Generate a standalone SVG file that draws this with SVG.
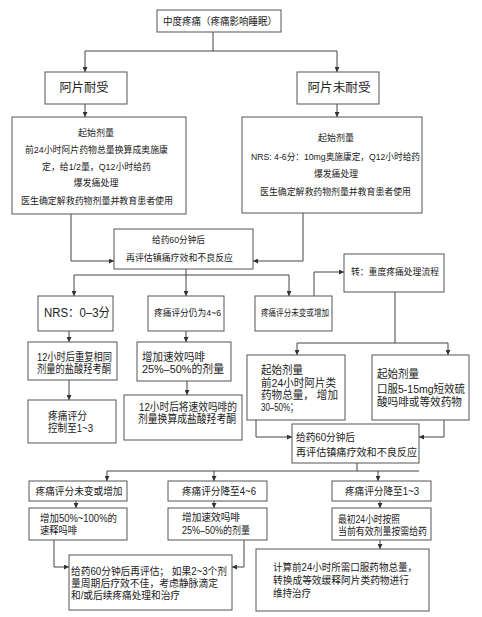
<svg xmlns="http://www.w3.org/2000/svg" width="482" height="617" viewBox="0 0 482 617">
<defs>
<marker id="ar" markerUnits="userSpaceOnUse" markerWidth="5" markerHeight="5" refX="5" refY="2.5" orient="auto">
<path d="M0,0 L5,2.5 L0,5 z" fill="#333"/>
</marker>
<style>
.b{fill:#fff;stroke:#555;stroke-width:1}
.c{fill:none;stroke:#444;stroke-width:1}
.a{marker-end:url(#ar)}
text{font-family:"Liberation Sans","Noto Sans CJK SC",sans-serif;fill:#222;dominant-baseline:central}
.m{text-anchor:middle}
.s9{font-size:9px}
.s10{font-size:10px}
.s11{font-size:11px}
.s12{font-size:12px}
</style>
</defs>
<rect width="482" height="617" fill="#fff"/>
<g id="connectors">
<path class="c" d="M213 32V51M85 51H337"/>
<path class="c a" d="M85 51V72"/>
<path class="c a" d="M337 51V72"/>
<path class="c a" d="M85 104V117"/>
<path class="c a" d="M337 104V117"/>
<path class="c a" d="M71 214V261H114"/>
<path class="c a" d="M303 213V261H253"/>
<path class="c" d="M186 269V275M74 275H289"/>
<path class="c a" d="M74 275V296"/>
<path class="c a" d="M186 275V296"/>
<path class="c a" d="M289 275V296"/>
<path class="c a" d="M314 296V272H344"/>
<path class="c" d="M395 292V343M297 343H448"/>
<path class="c a" d="M297 343V355"/>
<path class="c a" d="M448 343V355"/>
<path class="c a" d="M69 331V342"/>
<path class="c a" d="M69 380V400"/>
<path class="c a" d="M186 331V342"/>
<path class="c a" d="M187 381V395"/>
<path class="c a" d="M256 420V437H292"/>
<path class="c a" d="M444 420V437H419"/>
<path class="c" d="M357 463V471M107 471H419"/>
<path class="c a" d="M107 471V481"/>
<path class="c a" d="M214 471V481"/>
<path class="c a" d="M378 471V481"/>
<path class="c a" d="M76 501V508"/>
<path class="c a" d="M214 501V508"/>
<path class="c a" d="M380 501V508"/>
<path class="c a" d="M54 540V567H69"/>
<path class="c a" d="M244 540V567H232"/>
<path class="c a" d="M380 540V549"/>
</g>
<g id="n_top"><rect class="b" x="157" y="10" width="124" height="22"/>
<text class="m s10" x="220" y="21" textLength="114" lengthAdjust="spacingAndGlyphs">中度疼痛（疼痛影响睡眠）</text></g>
<g id="n_tol"><rect class="b" x="45" y="72" width="82" height="32"/>
<text class="m s12" x="84" y="88" textLength="49" lengthAdjust="spacingAndGlyphs">阿片耐受</text></g>
<g id="n_untol"><rect class="b" x="297" y="72" width="82" height="32"/>
<text class="m s12" x="339" y="88" textLength="63" lengthAdjust="spacingAndGlyphs">阿片未耐受</text></g>
<g id="n_start_l"><rect class="b" x="12" y="117" width="174" height="97"/>
<text class="m s9" x="96" y="133" textLength="36" lengthAdjust="spacingAndGlyphs">起始剂量</text>
<text class="m s9" x="96.5" y="150" textLength="143" lengthAdjust="spacingAndGlyphs">前24小时阿片药物总量换算成奥施康</text>
<text class="m s9" x="96.5" y="167" textLength="109" lengthAdjust="spacingAndGlyphs">定，给1/2量，Q12小时给药</text>
<text class="m s9" x="96" y="183" textLength="45" lengthAdjust="spacingAndGlyphs">爆发痛处理</text>
<text class="m s9" x="97" y="201" textLength="152" lengthAdjust="spacingAndGlyphs">医生确定解救药物剂量并教育患者使用</text></g>
<g id="n_start_r"><rect class="b" x="242" y="117" width="180" height="96"/>
<text class="m s9" x="336" y="138" textLength="36" lengthAdjust="spacingAndGlyphs">起始剂量</text>
<text class="m s9" x="335.5" y="157" textLength="169" lengthAdjust="spacingAndGlyphs">NRS: 4-6分：10mg奥施康定，Q12小时给药</text>
<text class="m s9" x="336" y="174" textLength="44" lengthAdjust="spacingAndGlyphs">爆发痛处理</text>
<text class="m s9" x="335.5" y="192" textLength="151" lengthAdjust="spacingAndGlyphs">医生确定解救药物剂量并教育患者使用</text></g>
<g id="n_eval1"><rect class="b" x="114" y="229" width="139" height="40"/>
<text class="m s9" x="178.5" y="240" textLength="53" lengthAdjust="spacingAndGlyphs">给药60分钟后</text>
<text class="m s9" x="179.5" y="258" textLength="107" lengthAdjust="spacingAndGlyphs">再评估镇痛疗效和不良反应</text></g>
<g id="n_nrs03"><rect class="b" x="38" y="296" width="75" height="35"/>
<text class="m s12" x="77" y="313" textLength="66" lengthAdjust="spacingAndGlyphs">NRS：0–3分</text></g>
<g id="n_still46"><rect class="b" x="148" y="296" width="76" height="35"/>
<text class="m s9" x="187.5" y="313" textLength="67" lengthAdjust="spacingAndGlyphs">疼痛评分仍为4~6</text></g>
<g id="n_nochange1"><rect class="b" x="255" y="296" width="77" height="35"/>
<text class="m s9" x="295" y="313" textLength="68" lengthAdjust="spacingAndGlyphs">疼痛评分未变或增加</text></g>
<g id="n_severe"><rect class="b" x="344" y="254" width="100" height="38"/>
<text class="m s9" x="395" y="272" textLength="88" lengthAdjust="spacingAndGlyphs">转：重度疼痛处理流程</text></g>
<g id="n_repeat"><rect class="b" x="28" y="342" width="89" height="38"/>
<text class="s11" x="37" y="357" textLength="75" lengthAdjust="spacingAndGlyphs">12小时后重复相同</text>
<text class="s11" x="37" y="369" textLength="74" lengthAdjust="spacingAndGlyphs">剂量的盐酸羟考酮</text></g>
<g id="n_ctrl"><rect class="b" x="28" y="400" width="88" height="43"/>
<text class="s11" x="48" y="416" textLength="39" lengthAdjust="spacingAndGlyphs">疼痛评分</text>
<text class="s11" x="48" y="428" textLength="45" lengthAdjust="spacingAndGlyphs">控制至1~3</text></g>
<g id="n_inc1"><rect class="b" x="137" y="342" width="94" height="39"/>
<text class="s11" x="142" y="357" textLength="63" lengthAdjust="spacingAndGlyphs">增加速效吗啡</text>
<text class="s11" x="142" y="369" textLength="82" lengthAdjust="spacingAndGlyphs">25%–50%的剂量</text></g>
<g id="n_conv"><rect class="b" x="124" y="395" width="118" height="45"/>
<text class="s11" x="139" y="407" textLength="98" lengthAdjust="spacingAndGlyphs">12小时后将速效吗啡的</text>
<text class="s11" x="138" y="419" textLength="98" lengthAdjust="spacingAndGlyphs">剂量换算成盐酸羟考酮</text></g>
<g id="n_sub_l"><rect class="b" x="247" y="355" width="98" height="65"/>
<text class="s11" x="261" y="370" textLength="42" lengthAdjust="spacingAndGlyphs">起始剂量</text>
<text class="s11" x="261" y="383" textLength="75" lengthAdjust="spacingAndGlyphs">前24小时阿片类</text>
<text class="s11" x="261" y="395" textLength="77" lengthAdjust="spacingAndGlyphs">药物总量， 增加</text>
<text class="s11" x="261" y="407" textLength="37" lengthAdjust="spacingAndGlyphs">30–50%；</text></g>
<g id="n_sub_r"><rect class="b" x="372" y="355" width="97" height="65"/>
<text class="s11" x="377" y="374" textLength="42" lengthAdjust="spacingAndGlyphs">起始剂量</text>
<text class="s11" x="377" y="389" textLength="88" lengthAdjust="spacingAndGlyphs">口服5-15mg短效硫</text>
<text class="s11" x="377" y="402" textLength="85" lengthAdjust="spacingAndGlyphs">酸吗啡或等效药物</text></g>
<g id="n_eval2"><rect class="b" x="292" y="424" width="127" height="39"/>
<text class="s10" x="296" y="437" textLength="59" lengthAdjust="spacingAndGlyphs">给药60分钟后</text>
<text class="s10" x="296" y="452" textLength="121" lengthAdjust="spacingAndGlyphs">再评估镇痛疗效和不良反应</text></g>
<g id="n_nochange2"><rect class="b" x="29" y="481" width="98" height="20"/>
<text class="m s10" x="79" y="491" textLength="87" lengthAdjust="spacingAndGlyphs">疼痛评分未变或增加</text></g>
<g id="n_down46"><rect class="b" x="168" y="481" width="99" height="20"/>
<text class="m s10" x="219" y="491" textLength="74" lengthAdjust="spacingAndGlyphs">疼痛评分降至4~6</text></g>
<g id="n_down13"><rect class="b" x="332" y="481" width="99" height="20"/>
<text class="m s10" x="382" y="491" textLength="74" lengthAdjust="spacingAndGlyphs">疼痛评分降至1~3</text></g>
<g id="n_inc2"><rect class="b" x="29" y="508" width="98" height="32"/>
<text class="s10" x="40" y="518" textLength="77" lengthAdjust="spacingAndGlyphs">增加50%~100%的</text>
<text class="s10" x="40" y="530" textLength="37" lengthAdjust="spacingAndGlyphs">速释吗啡</text></g>
<g id="n_inc3"><rect class="b" x="168" y="508" width="99" height="32"/>
<text class="s10" x="182" y="517" textLength="58" lengthAdjust="spacingAndGlyphs">增加速效吗啡</text>
<text class="s10" x="182" y="530" textLength="68" lengthAdjust="spacingAndGlyphs">25%–50%的剂量</text></g>
<g id="n_first24"><rect class="b" x="332" y="508" width="99" height="32"/>
<text class="s10" x="338" y="519" textLength="62" lengthAdjust="spacingAndGlyphs">最初24小时按照</text>
<text class="s10" x="338" y="531" textLength="89" lengthAdjust="spacingAndGlyphs">当前有效剂量按需给药</text></g>
<g id="n_reeval"><rect class="b" x="69" y="555" width="163" height="55"/>
<text class="s10" x="71" y="571" textLength="156" lengthAdjust="spacingAndGlyphs">给药60分钟后再评估； 如果2~3个剂</text>
<text class="s10" x="71" y="583" textLength="147" lengthAdjust="spacingAndGlyphs">量周期后疗效不佳，考虑静脉滴定</text>
<text class="s10" x="71" y="595" textLength="109" lengthAdjust="spacingAndGlyphs">和/或后续疼痛处理和治疗</text></g>
<g id="n_maint"><rect class="b" x="256" y="549" width="173" height="62"/>
<text class="s10" x="273" y="567" textLength="144" lengthAdjust="spacingAndGlyphs">计算前24小时所需口服药物总量，</text>
<text class="s10" x="273" y="580" textLength="136" lengthAdjust="spacingAndGlyphs">转换成等效缓释阿片类药物进行</text>
<text class="s10" x="273" y="593" textLength="38" lengthAdjust="spacingAndGlyphs">维持治疗</text></g>
</svg>
